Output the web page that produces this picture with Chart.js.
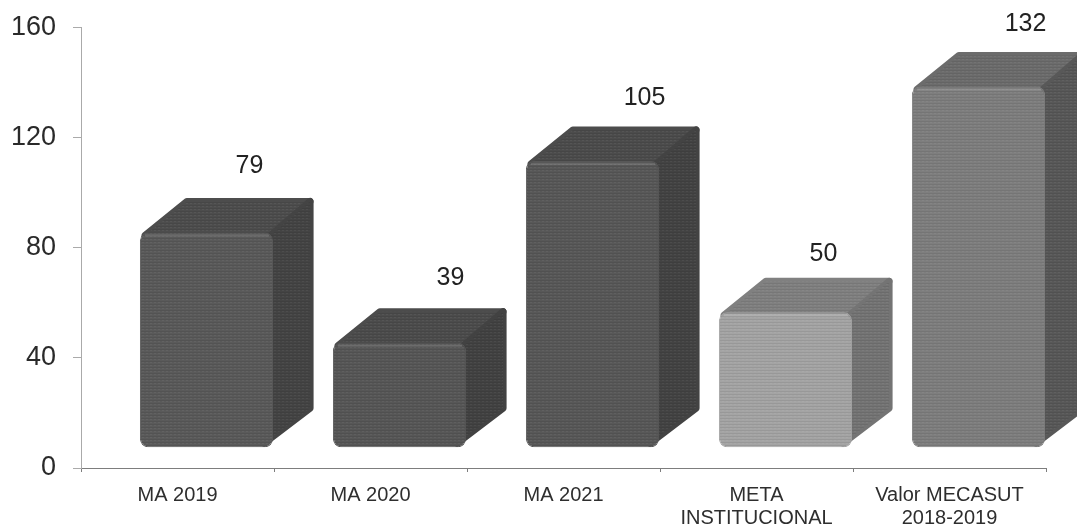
<!DOCTYPE html>
<html>
<head>
<meta charset="utf-8">
<style>
    html, body { margin: 0; padding: 0; background: #fff; overflow: hidden; }
    #wrap { width: 1077px; height: 528px; }
    canvas { filter: blur(0.55px); }
</style>
<script src="https://cdn.jsdelivr.net/npm/chart.js@4"></script>
</head>
<body>
<div id="wrap"><canvas id="chart" width="1077" height="528"></canvas></div>
<script>
const categories = ['MA 2019', 'MA 2020', 'MA 2021', ['META', 'INSTITUCIONAL'], ['Valor MECASUT', '2018-2019']];
const values = [79, 39, 105, 50, 132];
const yTicks = [0, 40, 80, 120, 160];

const frontColors = ['#5a5a5a', '#575757', '#585858', '#a4a4a4', '#7e7e7e'];
const topColors = ['#4d4d4d', '#4c4c4c', '#4c4c4c', '#808080', '#6c6c6c'];
const sideColors = ['#444444', '#424242', '#434343', '#747474', '#585858'];

// the value labels do not sit on a common offset in the original
const labelDx = [72, 80, 81, 67, 76];
const labelDy = [-84, -83, -81, -76, -80];

const SHIFT_X = 29, SHIFT_Y = -18;     // bars are drawn off the category centre
const DEPTH_X = 41, DEPTH_Y = 35;

// scan texture: fine horizontal lines over the base colour
function grain(color) {
    const c = document.createElement('canvas');
    c.width = 4;
    c.height = 3;
    const g = c.getContext('2d');
    g.fillStyle = color;
    g.fillRect(0, 0, 4, 3);
    g.fillStyle = 'rgba(0,0,0,0.07)';
    g.fillRect(0, 1, 4, 1);
    g.fillStyle = 'rgba(255,255,255,0.05)';
    g.fillRect(1, 2, 2, 1);
    return g.createPattern(c, 'repeat');
}

function face(ctx, pts, color) {
    ctx.beginPath();
    pts.forEach((p, i) => i ? ctx.lineTo(p[0], p[1]) : ctx.moveTo(p[0], p[1]));
    ctx.closePath();
    ctx.strokeStyle = color;
    ctx.lineWidth = 7;
    ctx.lineJoin = 'round';
    ctx.stroke();
    ctx.fillStyle = grain(color);
    ctx.fill();
}

const cubePlugin = {
    id: 'cube',
    beforeDatasetDraw(chart, args) {
        const ctx = chart.ctx;
        ctx.save();
        ctx.translate(SHIFT_X, SHIFT_Y);
        args.meta.data.forEach((bar, i) => {
            const left = bar.x - bar.width / 2, right = bar.x + bar.width / 2;
            const top = bar.y, bottom = bar.base;
            face(ctx, [
                [left + 5, top + 3],
                [left + 47, top + 4 - DEPTH_Y],
                [right + DEPTH_X - 4, top + 4 - DEPTH_Y],
                [right - 4, top + 5]
            ], topColors[i]);
            face(ctx, [
                [right - 6, top + 6],
                [right + DEPTH_X - 4, top + 4 - DEPTH_Y],
                [right + DEPTH_X - 4, bottom - DEPTH_Y - 4],
                [right - 9, bottom - 4]
            ], sideColors[i]);
        });
    },
    afterDatasetDraw(chart, args) {
        const ctx = chart.ctx;
        // lighter bevel along the top of the front face
        args.meta.data.forEach((bar) => {
            ctx.strokeStyle = 'rgba(255,255,255,0.13)';
            ctx.lineWidth = 2;
            ctx.beginPath();
            ctx.moveTo(bar.x - bar.width / 2 + 5, bar.y + 3);
            ctx.lineTo(bar.x + bar.width / 2 - 4, bar.y + 3);
            ctx.stroke();
        });
        ctx.restore();

        ctx.save();
        ctx.fillStyle = '#222';
        ctx.font = '25px "Liberation Sans", Arial, sans-serif';
        ctx.textAlign = 'center';
        ctx.textBaseline = 'middle';
        args.meta.data.forEach((bar, i) => {
            ctx.fillText(String(values[i]), bar.x + labelDx[i], bar.y + labelDy[i]);
        });
        ctx.restore();
    }
};

new Chart(document.getElementById('chart'), {
    type: 'bar',
    data: {
        labels: categories,
        datasets: [{
            // floating from 1 so the front face stops a little above the raised base
            data: values.map(v => [1, v]),
            backgroundColor: frontColors.map(grain),
            borderColor: frontColors,
            borderWidth: 1,
            borderRadius: 8,
            borderSkipped: false,
            categoryPercentage: 1,
            barPercentage: 0.69,
            clip: false
        }]
    },
    options: {
        responsive: false,
        animation: false,
        layout: { padding: { top: 27.5, right: 31, left: 0, bottom: 0 } },
        plugins: { legend: { display: false }, tooltip: { enabled: false } },
        scales: {
            x: {
                afterFit(scale) { scale.height = 60; },
                border: { color: '#7d7d7d', width: 1 },
                grid: { drawOnChartArea: false, color: '#7d7d7d', tickLength: 4 },
                ticks: {
                    autoSkip: false,
                    maxRotation: 0,
                    padding: 12,
                    color: '#2e2e2e',
                    font: { family: '"Liberation Sans", Arial, sans-serif', size: 20, lineHeight: 1.15 }
                }
            },
            y: {
                min: 0,
                max: 160,
                afterFit(scale) {
                    scale.width = 81;
                    scale.paddingTop = 0;
                    scale.paddingBottom = 0;
                },
                afterBuildTicks(scale) { scale.ticks = yTicks.map(v => ({ value: v })); },
                border: { color: '#aaaaaa', width: 1 },
                grid: { drawOnChartArea: false, color: '#aaaaaa', tickLength: 8 },
                ticks: {
                    padding: 17,
                    color: '#2a2a2a',
                    font: { family: '"Liberation Sans", Arial, sans-serif', size: 27 }
                }
            }
        }
    },
    plugins: [cubePlugin]
});
</script>
</body>
</html>
